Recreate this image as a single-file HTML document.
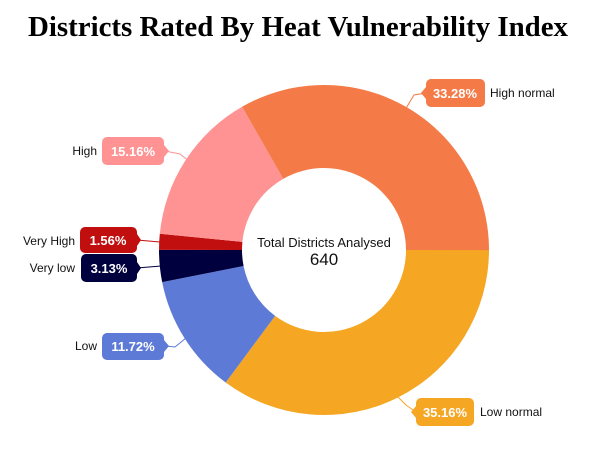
<!DOCTYPE html>
<html><head><meta charset="utf-8"><style>
body{margin:0;background:#fff;width:600px;height:460px;overflow:hidden}
svg{display:block}
.t{font-family:"Liberation Sans",sans-serif}
</style></head><body>
<svg id="s" width="600" height="460" xmlns="http://www.w3.org/2000/svg">
<text x="298" y="36" text-anchor="middle" font-family="Liberation Serif,serif" font-weight="bold" font-size="28" textLength="540" lengthAdjust="spacingAndGlyphs" fill="#000">Districts Rated By Heat Vulnerability Index</text>
<g id="pie"></g>
<g class="t" font-size="12">
<polyline points="165,151 180,154 196,167" fill="none" stroke="#ff9393"/>
<polyline points="137,240 160,242" fill="none" stroke="#c10f0f"/>
<polyline points="137,268 161,266" fill="none" stroke="#00003f"/>
<polyline points="165,346 175,347 186,338" fill="none" stroke="#5d7bd6"/>
<polyline points="426,93 414,95 405,110" fill="none" stroke="#f47a47"/>
<polyline points="416,412 406,405 397,396" fill="none" stroke="#f5a623"/>
<rect x="102" y="137" width="62" height="28" rx="5" fill="#ff9393"/><path d="M164,145 L169,151 L164,157Z" fill="#ff9393"/>
<text x="133" y="156" text-anchor="middle" fill="#fff" font-weight="bold" font-size="13">15.16%</text>
<text x="97" y="155" text-anchor="end" fill="#111">High</text>
<rect x="80" y="227" width="57" height="26" rx="5" fill="#c10f0f"/><path d="M137,234 L141,240 L137,246Z" fill="#c10f0f"/>
<text x="108" y="245" text-anchor="middle" fill="#fff" font-weight="bold" font-size="13">1.56%</text>
<text x="75" y="245" text-anchor="end" fill="#111">Very High</text>
<rect x="81" y="254" width="56" height="28" rx="5" fill="#00003f"/><path d="M137,262 L141,268 L137,274Z" fill="#00003f"/>
<text x="109" y="273" text-anchor="middle" fill="#fff" font-weight="bold" font-size="13">3.13%</text>
<text x="75" y="272" text-anchor="end" fill="#111">Very low</text>
<rect x="102" y="333" width="62" height="27" rx="5" fill="#5d7bd6"/><path d="M164,340 L169,346 L164,352Z" fill="#5d7bd6"/>
<text x="133" y="351" text-anchor="middle" fill="#fff" font-weight="bold" font-size="13">11.72%</text>
<text x="97" y="350" text-anchor="end" fill="#111">Low</text>
<rect x="426" y="79" width="59" height="28" rx="5" fill="#f47a47"/><path d="M426,87 L421,93 L426,99Z" fill="#f47a47"/>
<text x="455" y="98" text-anchor="middle" fill="#fff" font-weight="bold" font-size="13">33.28%</text>
<text x="490" y="97" fill="#111">High normal</text>
<rect x="416" y="398" width="58" height="28" rx="5" fill="#f5a623"/><path d="M416,406 L411,412 L416,418Z" fill="#f5a623"/>
<text x="445" y="417" text-anchor="middle" fill="#fff" font-weight="bold" font-size="13">35.16%</text>
<text x="480" y="416" fill="#111">Low normal</text>
<text x="324" y="247" text-anchor="middle" font-size="13" fill="#111">Total Districts Analysed</text>
<text x="324" y="265" text-anchor="middle" font-size="17" fill="#111">640</text>
</g>
</svg>
<script>
var d=[[35.16,"#f5a623"],[11.72,"#5d7bd6"],[3.13,"#00003f"],[1.56,"#c10f0f"],[15.16,"#ff9393"],[33.28,"#f47a47"]];
var cx=324,cy=250,R=165,r=82,a=0,g=document.getElementById("pie"),h="";
function p(rad,ang){return (cx+rad*Math.cos(ang)).toFixed(2)+","+(cy+rad*Math.sin(ang)).toFixed(2);}
d.forEach(function(s){var b=a+s[0]/100*2*Math.PI,l=(b-a)>Math.PI?1:0;
h+='<path fill="'+s[1]+'" d="M'+p(R,a)+' A'+R+','+R+' 0 '+l+' 1 '+p(R,b)+' L'+p(r,b)+' A'+r+','+r+' 0 '+l+' 0 '+p(r,a)+'Z"/>';a=b;});
g.innerHTML=h;
</script>
</body></html>
